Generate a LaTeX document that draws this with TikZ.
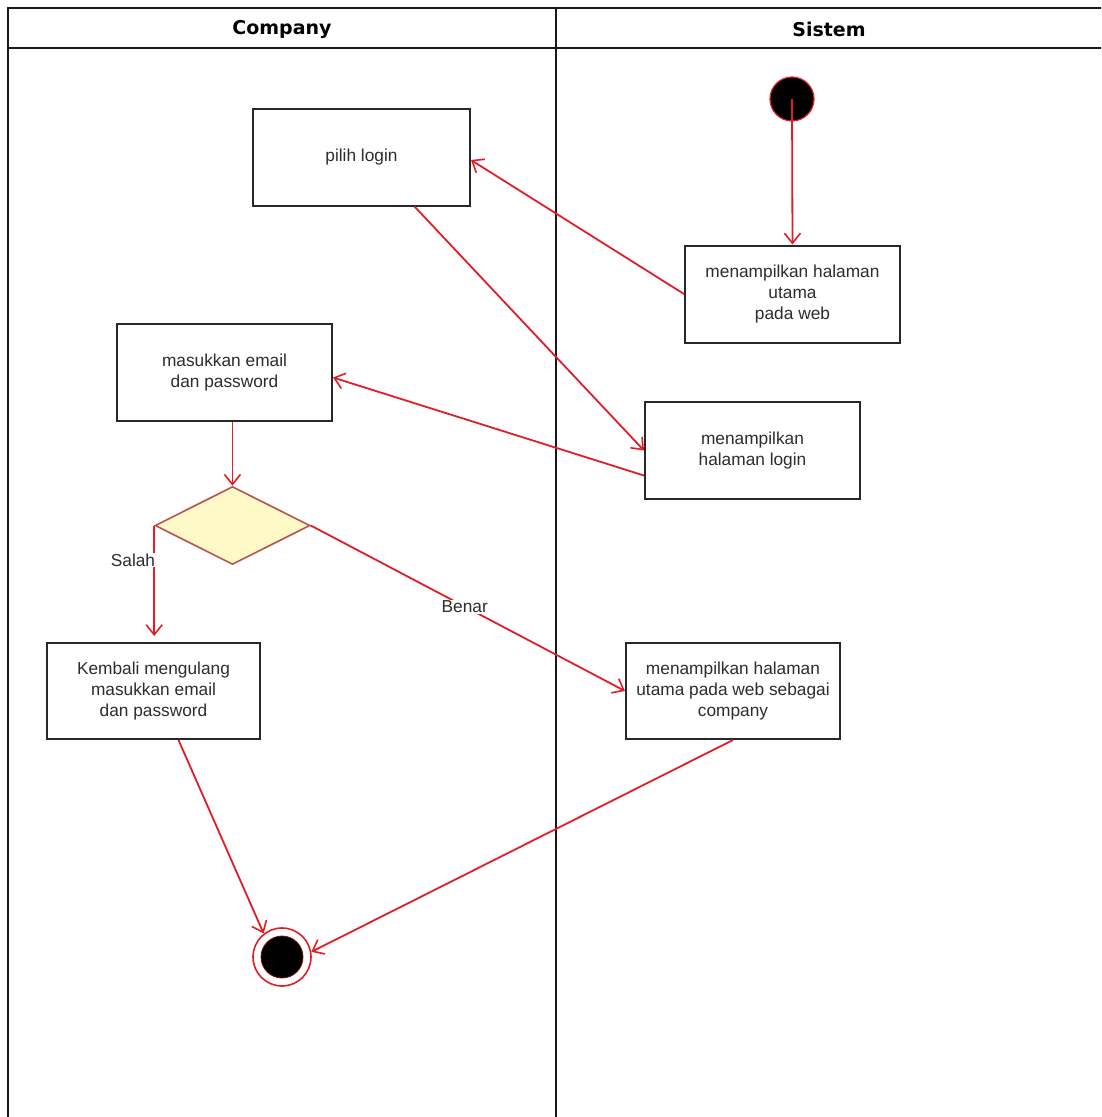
\documentclass[tikz,border=0pt]{standalone}
\usepackage{fontspec}
\setmainfont{Liberation Sans}
\newfontfamily\headfont{DejaVu Sans}
\usetikzlibrary{shapes.geometric,arrows.meta}
\definecolor{boxline}{RGB}{40,40,40}
\definecolor{txt}{RGB}{45,45,45}
\definecolor{edge}{RGB}{225,30,40}
\definecolor{darkred}{RGB}{120,10,10}
\definecolor{diastroke}{RGB}{184,84,80}
\definecolor{diafill}{RGB}{255,249,200}
\definecolor{laneline}{RGB}{25,25,25}
\begin{document}
\begin{tikzpicture}[x=1pt,y=-1pt,
  act/.style={draw=boxline, line width=2pt, fill=white, minimum width=215pt, minimum height=97pt, inner sep=0pt, align=center, font=\fontsize{17.3}{21}\selectfont, text=txt},
  flow/.style={draw=edge, line width=1.8pt, -{Straight Barb[length=10pt,width=16pt,line width=1.6pt]}},
  lane/.style={draw=laneline, line width=2.4pt},
  head/.style={font=\headfont\bfseries\fontsize{19}{23}\selectfont, text=black},
  lbl/.style={fill=white, inner sep=1pt, font=\fontsize{17.3}{21}\selectfont, text=txt}]
\useasboundingbox (0,0) rectangle (1101,1117);
\clip (0,0) rectangle (1101,1117);
\fill[white] (0,0) rectangle (1101,1117);
% swimlanes
\draw[lane] (8,1130) -- (8,8) -- (1120,8);
\draw[lane] (8,48) -- (1120,48);
\draw[lane] (556,8) -- (556,1130);
\node[head] (hcomp) at (282,29) {Company};
\node[head] (hsis) at (829,29) {Sistem};
% nodes
\node[circle, fill=black, draw=edge, line width=1.2pt, minimum size=44pt, inner sep=0pt] (start) at (792,99) {};
\node[act, minimum width=217pt] (pilih) at (361.5,157) {pilih login};
\node[act] (utama) at (792.5,294) {menampilkan halaman\\utama\\pada web};
\node[act] (login) at (752.5,450.5) {menampilkan\\halaman login};
\node[act] (masuk) at (224.5,372.5) {masukkan email\\dan password};
\node[diamond, aspect=2, draw=diastroke, fill=diafill, line width=1.6pt, minimum width=155pt, minimum height=78pt, inner sep=0pt] (dia) at (232.5,525.5) {};
\node[act, minimum width=213pt, minimum height=96pt] (kembali) at (153.5,691) {Kembali mengulang\\masukkan email\\dan password};
\node[act, minimum width=214pt, minimum height=96pt] (comp) at (733,691) {menampilkan halaman\\utama pada web sebagai\\company};
\node[circle, fill=white, draw=edge, line width=1.6pt, minimum size=58pt, inner sep=0pt] (end) at (282,957) {};
\node[circle, fill=black, draw=darkred, line width=0.8pt, minimum size=42pt, inner sep=0pt] (endin) at (end) {};
% connectors
\draw[flow] (start.center) -- (utama.north);
\draw[flow] (utama.west) -- ([yshift=-3pt]pilih.east);
\draw[flow] ([xshift=53pt]pilih.south) -- (login.west);
\draw[flow] ([yshift=-25pt]login.west) -- ([yshift=-5pt]masuk.east);
\draw[flow] (masuk.south -| dia.north) -- (dia.north);
\draw[flow, shorten >=6pt] (dia.west) -- (dia.west |- kembali.north);
\node[lbl] (salah) at (133,560) {Salah};
\draw[flow] (dia.east) -- node[lbl, pos=0.49] (benar) {Benar} (comp.west);
\draw[flow] ([xshift=25pt]kembali.south) -- (end.128);
\draw[flow] (comp.south) -- (end.10);
\end{tikzpicture}
\end{document}
